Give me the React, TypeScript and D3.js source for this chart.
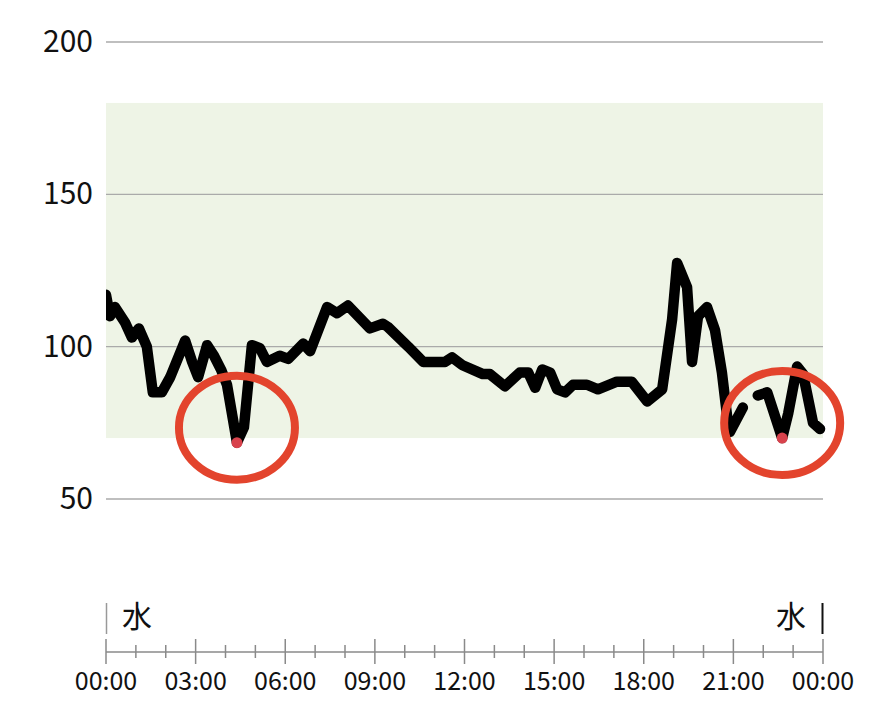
import React from "react";
import * as d3 from "d3";

const times = [
  "00:00","00:08","00:18","00:38","00:52","01:06","01:22","01:34","01:52","02:09",
  "02:39","02:53","03:05","03:23","03:37","03:51","04:03","04:23","04:37","04:53",
  "05:09","05:23","05:49","06:06","06:36","06:50","07:24","07:44","08:06","08:50",
  "09:16","09:26","10:07","10:37","11:21","11:35","11:55","12:37","12:51","13:21",
  "13:51","14:08","14:22","14:36","14:52","15:06","15:22","15:38","16:06","16:28",
  "17:06","17:36","18:07","18:37","18:57","19:07","19:27","19:37","19:49","20:07",
  "20:23","20:37","20:49","20:53","21:19","21:34","21:49","22:08","22:38","22:50",
  "23:08","23:20","23:40","23:54",
];
const glucose: (number | null)[] = [
  117,110,113,108,103,106,100,85,85,90,
  102,95,90,100.5,97,92.5,87.5,68.5,73.5,100.5,
  99.5,95,97,96,101,98.5,113,111,113.5,106,
  107.5,106.5,100,95,95,96.5,94,91,91,87,
  91.5,91.5,86.5,92.5,91.5,86,85,87.5,87.5,86,
  88.5,88.5,82,86,109,127.5,119.5,95,110,113,
  105.5,91.5,75,72,80,null,84,85,70,78,
  93.5,91,75,73,
];
const lowTimes = ["04:23", "22:38"];
const yTicks = [50, 100, 150, 200];
const xTickLabels = ["00:00","03:00","06:00","09:00","12:00","15:00","18:00","21:00","00:00"];
const targetRange = [70, 180];
const dayLabel = "水";

const toMin = (s: string) => {
  const [h, m] = s.split(":").map(Number);
  return h * 60 + m;
};

export default function App() {
  const W = 870, H = 725;
  const x0 = 106, x1 = 823;
  const x = d3.scaleLinear().domain([0, 1440]).range([x0, x1]);
  const y = d3.scaleLinear().domain([50, 200]).range([499, 42]);
  const font = "'Noto Sans CJK JP', 'Noto Sans', sans-serif";

  const pts = times.map((t, i) => ({ t: toMin(t), v: glucose[i] }));
  const line = d3
    .line<{ t: number; v: number | null }>()
    .defined((d) => d.v !== null)
    .x((d) => x(d.t))
    .y((d) => y(d.v as number));

  const lows = lowTimes.map((t) => {
    const i = times.indexOf(t);
    return { t: toMin(t), v: glucose[i] as number };
  });

  const axisY = 652;
  const hourTicks = d3.range(0, 25);

  return (
    <svg width={W} height={H} style={{ position: "absolute", left: 0, top: 0 }}>
      <rect x={0} y={0} width={W} height={H} fill="#fff" />
      <rect
        x={x0}
        y={y(targetRange[1])}
        width={x1 - x0}
        height={y(targetRange[0]) - y(targetRange[1])}
        fill="#EEF4E6"
      />
      {yTicks.map((v) => (
        <g key={v}>
          <line x1={x0} x2={x1} y1={y(v)} y2={y(v)} stroke="#aaaaaa" strokeWidth={1.3} />
          <text
            x={93}
            y={y(v) + 10}
            textAnchor="end"
            fontFamily={font}
            fontSize={30}
            fill="#111"
          >
            {v}
          </text>
        </g>
      ))}
      <clipPath id="plotclip">
        <rect x={x0} y={0} width={x1 - x0 + 10} height={H} />
      </clipPath>
      <path
        d={line(pts) || ""}
        fill="none"
        stroke="#000"
        strokeWidth={10.5}
        strokeLinejoin="round"
        strokeLinecap="round"
        clipPath="url(#plotclip)"
      />
      {lows.map((d, i) => (
        <g key={i}>
          <circle cx={x(d.t)} cy={y(d.v)} r={5.5} fill="#D8424C" />
          <ellipse
            cx={x(d.t)}
            cy={y(d.v) - 15}
            rx={58}
            ry={52}
            fill="none"
            stroke="#E3442D"
            strokeWidth={8}
          />
        </g>
      ))}
      {/* day markers */}
      <line x1={x0 + 0.5} x2={x0 + 0.5} y1={603} y2={634} stroke="#999" strokeWidth={1.5} />
      <text x={122} y={627} fontFamily={font} fontSize={30} fill="#111">
        {dayLabel}
      </text>
      <line x1={x1 - 0.5} x2={x1 - 0.5} y1={603} y2={634} stroke="#111" strokeWidth={2} />
      <text x={806} y={627} textAnchor="end" fontFamily={font} fontSize={30} fill="#111">
        {dayLabel}
      </text>
      {/* x axis */}
      <line x1={x0} x2={x1} y1={axisY} y2={axisY} stroke="#8a8a8a" strokeWidth={1.5} />
      {hourTicks.map((h) => {
        const major = h % 3 === 0;
        return (
          <line
            key={h}
            x1={x(h * 60)}
            x2={x(h * 60)}
            y1={major ? 639 : 645}
            y2={major ? 664 : 658}
            stroke="#8a8a8a"
            strokeWidth={1.5}
          />
        );
      })}
      {xTickLabels.map((s, i) => (
        <text
          key={i}
          x={x(i * 180)}
          y={690}
          textAnchor="middle"
          fontFamily={font}
          fontSize={25}
          fill="#111"
        >
          {s}
        </text>
      ))}
    </svg>
  );
}
